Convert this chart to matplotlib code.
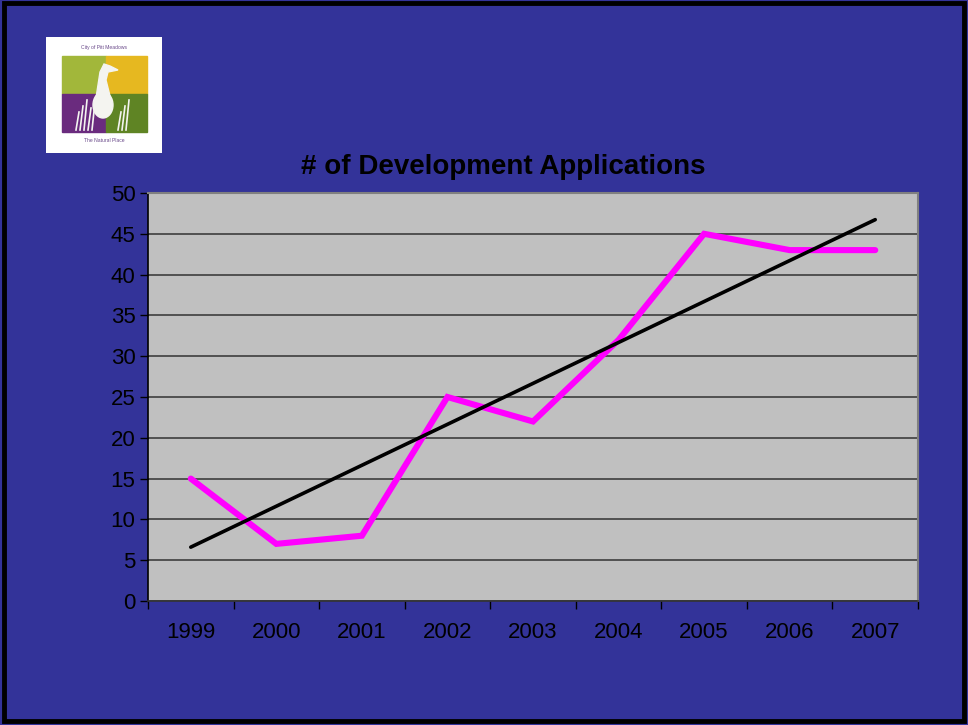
import numpy as np
import matplotlib
matplotlib.use("Agg")
import matplotlib.pyplot as plt
from matplotlib.patches import Rectangle, Ellipse, Polygon

years = ["1999", "2000", "2001", "2002", "2003", "2004", "2005", "2006", "2007"]
applications = [15, 7, 8, 25, 22, 32, 45, 43, 43]
yticks = [0, 5, 10, 15, 20, 25, 30, 35, 40, 45, 50]

plt.rcParams['font.family'] = ['Liberation Sans', 'DejaVu Sans']

bg = "#333399"
fig = plt.figure(figsize=(9.68, 7.25), dpi=100)
fig.patch.set_facecolor(bg)

W, H = 968.0, 725.0

# slide border
fig.patches.append(Rectangle((4 / W, 4 / H), 960 / W, 718 / H, transform=fig.transFigure,
                             fill=False, edgecolor="black", linewidth=3.5))

ax = fig.add_axes([148 / W, 1 - 601 / H, 770 / W, 408 / H])
ax.set_facecolor("#C0C0C0")

x = np.arange(len(years))
ax.plot(x, applications, color="#FF00FF", linewidth=4.4, solid_capstyle="round",
        solid_joinstyle="miter", zorder=3)

coeffs = np.polyfit(x, applications, 1)
ax.plot(x, coeffs[0] * x + coeffs[1], color="black", linewidth=2.6,
        solid_capstyle="round", zorder=4)

ax.set_xlim(-0.5, len(years) - 0.5)
ax.set_ylim(0, 50)
ax.set_yticks(yticks)
ax.yaxis.grid(True, color="#333333", linewidth=1.1)
ax.set_axisbelow(True)

ax.set_xticks(np.arange(-0.5, len(years), 1.0))
ax.set_xticklabels([])
ax.set_xticks(x, minor=True)
ax.set_xticklabels(years, minor=True)
ax.tick_params(axis="x", which="major", length=6, width=1, color="black", direction="out")
ax.tick_params(axis="x", which="minor", length=0, pad=15, labelsize=16, labelcolor="black")
ax.tick_params(axis="y", length=6, width=1, color="black", direction="out", pad=3,
               labelsize=16, labelcolor="black")

for s in ["top", "right"]:
    ax.spines[s].set_color("#808080")
    ax.spines[s].set_linewidth(1.5)
ax.spines["left"].set_color("black")
ax.spines["bottom"].set_color("#333333")
ax.spines["left"].set_linewidth(1.2)
ax.spines["bottom"].set_linewidth(1.2)

fig.text(503 / W, 1 - 167 / H, "# of Development Applications", ha="center", va="center",
         fontsize=20, fontweight="bold", color="black")

# logo
lg = fig.add_axes([46 / W, 1 - 153 / H, 116 / W, 116 / H])
lg.set_xlim(46, 162)
lg.set_ylim(153, 37)
lg.axis("off")
lg.add_patch(Rectangle((46, 37), 116, 116, color="white"))
lg.add_patch(Rectangle((62, 56), 44, 38, color="#A2B73A"))
lg.add_patch(Rectangle((106, 56), 41, 38, color="#E6B820"))
lg.add_patch(Rectangle((62, 94), 44, 38, color="#6A2B7E"))
lg.add_patch(Rectangle((106, 94), 41, 38, color="#5F8424"))
lg.add_patch(Ellipse((103, 105), 20, 26, color="#F4F4F0"))
lg.add_patch(Polygon([[96, 98], [100, 72], [104, 64], [110, 66], [118, 70], [108, 72],
                      [106, 80], [110, 96]], closed=True, color="#F4F4F0"))
for gx in [76, 80, 84, 88, 92, 118, 122, 126]:
    lg.plot([gx, gx + 3], [130, 100 + (gx % 7) * 2], color="#F4F4F0", linewidth=1.2)
lg.text(104, 48, "City of Pitt Meadows", ha="center", va="center", fontsize=3.6, color="#6A4A8A")
lg.text(104, 141, "The Natural Place", ha="center", va="center", fontsize=3.6, color="#6A4A8A")

fig.savefig("out.png", dpi=100, facecolor=bg)
